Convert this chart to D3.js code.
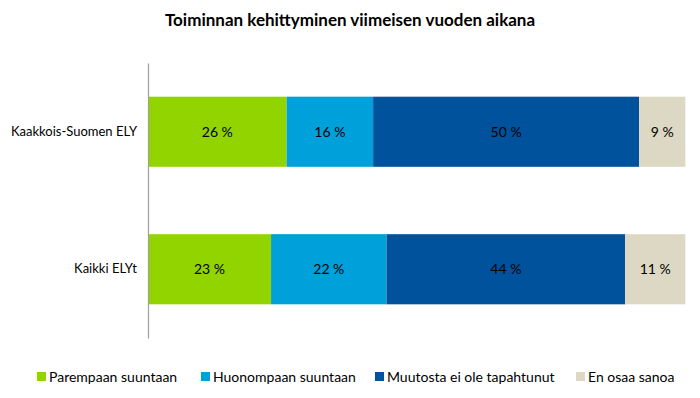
<!DOCTYPE html>
<html><head><meta charset="utf-8">
<script src="https://cdn.jsdelivr.net/npm/d3@7"></script>
<style>body{margin:0;background:#fff}svg{display:block}text{font-family:Lato,"Open Sans",sans-serif}</style>
</head><body>
<svg id="c" width="700" height="398"></svg>
<script>
const title = "Toiminnan kehittyminen viimeisen vuoden aikana";
const categories = ["Kaakkois-Suomen ELY", "Kaikki ELYt"];
const seriesNames = ["Parempaan suuntaan", "Huonompaan suuntaan", "Muutosta ei ole tapahtunut", "En osaa sanoa"];
const colors = ["#92d400", "#00a0da", "#00529c", "#dcd8c3"];
const parempaan = [25.8, 22.9];
const huonompaan = [16.1, 21.5];
const muutosta = [49.5, 44.4];
const enOsaa = [8.6, 11.2];
const labels = [["26 %", "16 %", "50 %", "9 %"], ["23 %", "22 %", "44 %", "11 %"]];

const svg = d3.select("#c");
const margin = {left: 148, right: 14.7, top: 63, bottom: 60};
const W = 700, H = 398;
const x = d3.scaleLinear().domain([0, 100]).range([margin.left, W - margin.right]);
const y = d3.scaleBand().domain(categories).range([63, 338]).paddingInner(0.49).paddingOuter(0.245);

const rows = categories.map((c, i) => ({cat: c, vals: [parempaan[i], huonompaan[i], muutosta[i], enOsaa[i]]}));
const stack = d3.stack().keys([0,1,2,3]);
const stacked = stack(rows.map(r => r.vals));

svg.append("text").attr("x", 350).attr("y", 26).attr("text-anchor", "middle")
  .attr("font-size", 17).attr("font-weight", "bold").text(title);

stacked.forEach((layer, k) => {
  const g = svg.append("g");
  layer.forEach((d, i) => {
    g.append("rect").attr("x", x(d[0])).attr("y", y(categories[i]))
      .attr("width", x(d[1]) - x(d[0])).attr("height", y.bandwidth()).attr("fill", colors[k]);
    g.append("text").attr("x", (x(d[0]) + x(d[1])) / 2).attr("y", y(categories[i]) + y.bandwidth() / 2)
      .attr("dy", "0.35em").attr("text-anchor", "middle").attr("font-size", 14).attr("fill", "#000")
      .text(labels[i][k]);
  });
});

const yAxis = d3.axisLeft(y).tickSize(0).tickPadding(11);
const ya = svg.append("g").attr("transform", `translate(${margin.left},0)`).call(yAxis);
ya.select(".domain").attr("stroke", "#a0a0a0").attr("stroke-width", 1.2);
ya.selectAll("text").attr("font-size", 13).attr("fill", "#000").style("font-family", "Lato,sans-serif");

const legendX = [37, 201, 375, 576];
const lg = svg.append("g");
seriesNames.forEach((n, k) => {
  lg.append("rect").attr("x", legendX[k]).attr("y", 372).attr("width", 9).attr("height", 9).attr("fill", colors[k]);
  lg.append("text").attr("x", legendX[k] + 12).attr("y", 377).attr("dy", "0.35em")
    .attr("font-size", 14).attr("fill", "#000").text(n);
});
</script>
</body></html>
